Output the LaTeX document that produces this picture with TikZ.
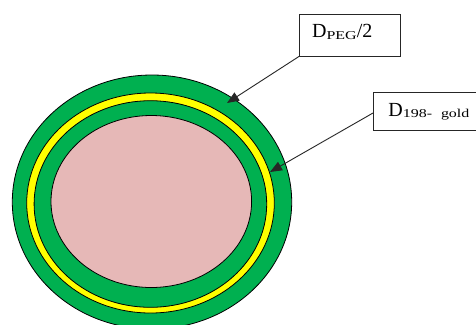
\documentclass[tikz,border=0pt]{standalone}
\usepackage{graphicx}
\usepackage{fontspec}
\setmainfont{Liberation Serif}
\usetikzlibrary{arrows.meta}

\definecolor{shellgreen}{HTML}{00B050}
\definecolor{goldyellow}{HTML}{FFFF00}
\definecolor{corepink}{HTML}{E6B8B7}

% lowered, slightly widened subscript text
\newcommand{\subtxt}[1]{\raisebox{-1.5bp}{\fontsize{12bp}{12bp}\selectfont\scalebox{1.33}[1]{#1}}}

\begin{document}
\begin{tikzpicture}[x=1bp,y=-1bp,
  layer/.style={draw=black, line width=0.8bp},
  labelbox/.style={draw=black!85, line width=0.9bp, fill=white, anchor=base west,
    inner ysep=0pt, align=left, font=\fontsize{20bp}{20bp}\selectfont},
  pointer/.style={draw=black!85, line width=0.9bp, -{Triangle[length=12bp,width=9.5bp]}}]
  \clip (0,0) rectangle (476,324);
  \fill[white] (0,0) rectangle (476,324);

  % particle: PEG shell, gold layer, inner shell, core
  \path[layer, fill=shellgreen] (152,202) ellipse [x radius=139.7bp, y radius=127bp];
  \path[layer, fill=goldyellow] (150.5,203) ellipse [x radius=123.8bp, y radius=110bp];
  \path[layer, fill=shellgreen] (150.4,204) ellipse [x radius=116.3bp, y radius=103.3bp];
  \path[layer, fill=corepink] (151.3,201.5) ellipse [x radius=100.3bp, y radius=86bp];

  % labels
  \node[labelbox, inner xsep=12.7bp, text width=75.6bp, text height=23.5bp, text depth=18.5bp]
    (peg) at (299,37.5) {D\subtxt{PEG}/2};
  \node[labelbox, inner xsep=15bp, text width=77bp, text height=24bp, text depth=14bp]
    (gold) at (373,116) {D\subtxt{198- gold}};

  \coordinate (tip1) at (227,103);
  \coordinate (tip2) at (270,172);
  \draw[pointer] (peg.south west) -- (tip1);
  \draw[pointer] ([yshift=-2bp]gold.west) -- (tip2);
\end{tikzpicture}
\end{document}
